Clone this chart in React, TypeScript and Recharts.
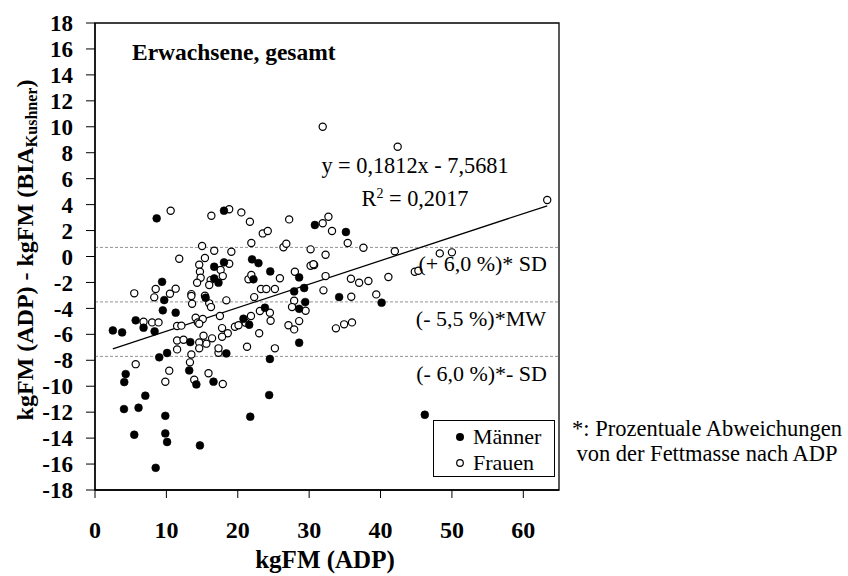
import React from 'react';
import { ScatterChart, Scatter, XAxis, YAxis, ZAxis, ReferenceLine, ReferenceArea, Legend } from 'recharts';

// ---- data ----
const maennerX = [8.64, 18.07, 30.8, 35.15, 18.07, 16.7, 22.0, 22.9, 24.55, 28.6, 16.7, 17.3, 22.2, 27.9, 29.3, 29.45, 34.2, 40.15, 28.6, 23.8, 20.8, 21.6, 28.6, 24.5, 18.4, 13.35, 10.1, 9.0, 11.3, 9.5, 5.7, 6.8, 8.35, 2.5, 3.8, 9.4, 9.7, 15.5, 4.3, 4.1, 13.2, 14.2, 16.6, 24.4, 7.05, 4.06, 6.1, 9.85, 21.75, 5.5, 9.85, 10.1, 14.7, 8.5, 46.2];
const maennerY = [2.94, 3.53, 2.43, 1.89, -0.45, -0.79, -0.22, -0.51, -1.15, -1.61, -1.69, -2.02, -1.76, -2.69, -2.43, -3.51, -3.13, -3.56, -4.03, -3.95, -4.8, -5.26, -6.65, -7.9, -7.47, -6.6, -7.44, -7.77, -4.33, -4.15, -4.92, -5.49, -5.77, -5.7, -5.85, -1.95, -3.36, -3.18, -9.06, -9.68, -8.78, -9.86, -9.65, -10.68, -10.73, -11.76, -11.66, -12.28, -12.35, -13.74, -13.64, -14.3, -14.56, -16.29, -12.2];

const frauenX = [10.6, 16.3, 18.8, 20.5, 21.7, 23.5, 24.2, 27.2, 31.9, 32.7, 33.2, 35.4, 37.6, 42.0, 21.9, 26.4, 26.8, 30.2, 32.3, 15.0, 16.7, 19.1, 11.8, 15.4, 14.6, 18.8, 17.6, 25.9, 28.0, 30.2, 30.7, 32.3, 35.85, 37.0, 38.3, 41.1, 14.7, 14.8, 14.3, 16.2, 17.9, 16.0, 21.5, 21.9, 23.25, 24.0, 25.2, 32.0, 22.3, 27.9, 35.9, 39.4, 27.6, 29.5, 23.1, 24.5, 24.6, 21.85, 21.1, 19.6, 20.1, 18.6, 17.8, 17.5, 18.4, 23.0, 27.1, 27.9, 28.6, 33.75, 34.9, 36.0, 25.2, 21.3, 17.3, 17.3, 17.8, 16.4, 15.6, 15.2, 14.6, 14.6, 13.5, 13.3, 11.5, 12.4, 11.5, 5.7, 11.5, 12.1, 14.1, 14.4, 15.1, 14.6, 6.8, 8.0, 8.9, 5.5, 8.3, 8.5, 10.5, 11.3, 13.5, 13.5, 13.6, 15.4, 16.0, 16.25, 10.4, 15.9, 9.85, 13.9, 17.9, 31.9, 42.4, 63.35, 48.3, 50.0, 44.8, 45.3, 30.6];
const frauenY = [3.53, 3.14, 3.64, 3.4, 2.68, 1.78, 1.96, 2.86, 2.56, 3.07, 1.96, 1.04, 0.67, 0.4, 1.04, 0.71, 0.98, 0.55, 0.13, 0.81, 0.44, 0.37, -0.17, -0.12, -0.63, -0.56, -1.04, -1.68, -1.17, -0.71, -0.66, -1.51, -1.71, -2.02, -1.89, -1.58, -1.17, -1.64, -2.02, -1.82, -1.51, -2.2, -1.76, -1.43, -2.5, -2.5, -2.5, -2.61, -3.13, -3.41, -3.1, -2.92, -3.9, -4.18, -4.2, -4.33, -4.95, -4.59, -5.1, -5.41, -5.3, -5.92, -5.52, -4.59, -3.38, -5.92, -5.3, -5.62, -4.98, -5.54, -5.23, -5.08, -7.08, -6.96, -7.42, -7.08, -6.19, -6.31, -6.72, -6.11, -6.62, -7.08, -7.55, -8.16, -6.47, -6.42, -7.16, -8.3, -5.36, -5.33, -4.72, -5.08, -4.82, -5.18, -5.03, -5.08, -5.08, -2.84, -3.15, -2.5, -2.87, -2.48, -2.9, -3.05, -3.64, -3.02, -3.61, -3.9, -8.8, -9.0, -9.65, -9.5, -9.83, 10.0, 8.46, 4.35, 0.24, 0.32, -1.17, -1.1, -0.6];

const seriesNames = ['Männer', 'Frauen'];
const xTicks = [0, 10, 20, 30, 40, 50, 60];
const yTicks = [-18, -16, -14, -12, -10, -8, -6, -4, -2, 0, 2, 4, 6, 8, 10, 12, 14, 16, 18];
const xDomain = [0, 65];
const yDomain = [-18, 18];

// regression y = 0,1812x - 7,5681
const slope = 0.1812;
const intercept = -7.5681;

// band lines: +SD, mean (MW), -SD
const bandLevels = [0.7, -3.5, -7.7];
const bandLabels = ['(+ 6,0 %)* SD', '(- 5,5 %)*MW', '(- 6,0 %)*- SD'];

const maenner = maennerX.map((x, i) => ({ x, y: maennerY[i] }));
const frauen = frauenX.map((x, i) => ({ x, y: frauenY[i] }));
const allX = [...maennerX, ...frauenX];
const xMin = Math.min(...allX);
const xMax = Math.max(...allX);

const FONT = '"Liberation Serif", "Times New Roman", serif';

const filledDot = (p: any) => <circle cx={p.cx} cy={p.cy} r={3.9} fill="#000" stroke="#000" strokeWidth={0.6} />;
const openDot = (p: any) => <circle cx={p.cx} cy={p.cy} r={3.6} fill="#fff" stroke="#000" strokeWidth={1.2} />;

const LegendBox = () => (
  <div style={{ width: 120, height: 55, border: '1px solid #000', background: '#fff', fontFamily: FONT, fontSize: 22, color: '#000', boxSizing: 'content-box' }}>
    {seriesNames.map((name, i) => (
      <div key={name} style={{ position: 'absolute', left: 20, top: 4 + i * 26, height: 26, display: 'flex', alignItems: 'center', lineHeight: '26px' }}>
        <svg width={14} height={14} style={{ marginRight: 6 }}>
          {i === 0 ? <circle cx={7} cy={7} r={4} fill="#000" /> : <circle cx={7} cy={7} r={3.3} fill="#fff" stroke="#000" strokeWidth={1.2} />}
        </svg>
        <span>{name}</span>
      </div>
    ))}
  </div>
);

export default function App() {
  const tickStyle = { fill: '#000', fontSize: 23, fontWeight: 'bold', fontFamily: FONT };
  return (
    <div style={{ position: 'relative', width: 848, height: 576, background: '#fff' }}>
      <style>{'body{margin:0;background:#fff}'}</style>
      <ScatterChart width={848} height={576} margin={{ top: 23, right: 289, bottom: 0, left: 0 }}>
        <XAxis
          type="number"
          dataKey="x"
          domain={xDomain}
          ticks={xTicks}
          interval={0}
          height={86}
          tickSize={8}
          tickMargin={23}
          tick={{ ...tickStyle, fontSize: 24 }}
          axisLine={{ stroke: '#000', strokeWidth: 1.3 }}
          tickLine={{ stroke: '#000', strokeWidth: 1 }}
          allowDataOverflow
        />
        <YAxis
          type="number"
          dataKey="y"
          domain={yDomain}
          ticks={yTicks}
          interval={0}
          width={95}
          tickSize={9}
          tickMargin={13}
          tick={tickStyle}
          axisLine={{ stroke: '#000', strokeWidth: 1.3 }}
          tickLine={{ stroke: '#000', strokeWidth: 1 }}
          allowDataOverflow
        />
        <ZAxis range={[40, 40]} />
        <ReferenceArea x1={xDomain[0]} x2={xDomain[1]} y1={yDomain[0]} y2={yDomain[1]} fill="none" stroke="#000" strokeWidth={1.3} fillOpacity={0} />
        {bandLevels.map((lv) => (
          <ReferenceLine key={lv} y={lv} stroke="#777" strokeWidth={0.8} strokeDasharray="3 2" />
        ))}
        <ReferenceLine
          segment={[
            { x: xMin, y: slope * xMin + intercept },
            { x: xMax, y: slope * xMax + intercept },
          ]}
          stroke="#000"
          strokeWidth={1.3}
        />
        <Scatter name={seriesNames[1]} data={frauen} shape={openDot} isAnimationActive={false} />
        <Scatter name={seriesNames[0]} data={maenner} shape={filledDot} isAnimationActive={false} />
        <Legend
          layout="vertical"
          align="center"
          verticalAlign="middle"
          content={() => <LegendBox />}
          wrapperStyle={{ position: 'absolute', left: 433, top: 420, width: 122, height: 57 }}
        />
      </ScatterChart>
      <svg width={848} height={576} style={{ position: 'absolute', left: 0, top: 0, pointerEvents: 'none' }} fontFamily={FONT} fill="#000">
        <text x={132} y={60} fontSize={23.5} fontWeight="bold">Erwachsene, gesamt</text>
        <text x={415} y={173} fontSize={22.3} textAnchor="middle">y = 0,1812x - 7,5681</text>
        <text x={415} y={206} fontSize={22.3} textAnchor="middle">
          R<tspan fontSize={14} dy={-8}>2</tspan><tspan dy={8}> = 0,2017</tspan>
        </text>
        <text x={547} y={271} fontSize={22} textAnchor="end">{bandLabels[0]}</text>
        <text x={546} y={326} fontSize={22} textAnchor="end">{bandLabels[1]}</text>
        <text x={547} y={381} fontSize={22} textAnchor="end">{bandLabels[2]}</text>
        <text x={707} y={436} fontSize={22.5} textAnchor="middle">*: Prozentuale Abweichungen</text>
        <text x={707} y={461} fontSize={22.5} textAnchor="middle">von der Fettmasse nach ADP</text>
        <text x={325} y={568} fontSize={25} fontWeight="bold" textAnchor="middle">kgFM (ADP)</text>
        <text transform="translate(33, 250) rotate(-90)" fontSize={24} fontWeight="bold" textAnchor="middle">
          kgFM (ADP) - kgFM (BIA<tspan fontSize={16} dy={4}>Kushner</tspan><tspan dy={-4}>)</tspan>
        </text>
      </svg>
    </div>
  );
}
